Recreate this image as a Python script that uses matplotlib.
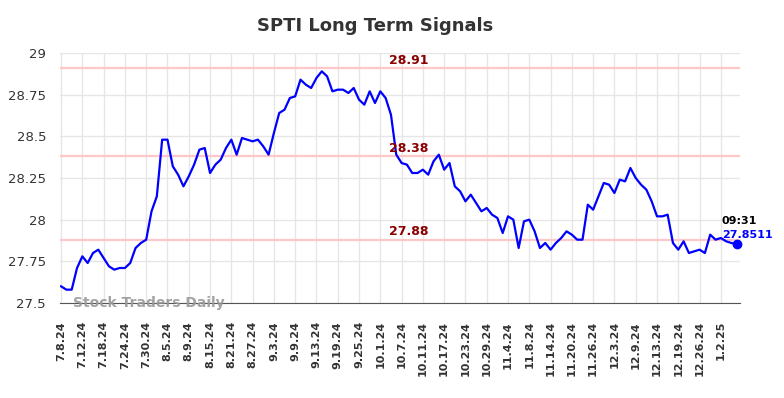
import matplotlib
matplotlib.use('Agg')
import matplotlib.pyplot as plt
from matplotlib.transforms import blended_transform_factory

# closing prices, one per trading day from 7.8.24 on
prices = [
    27.60, 27.58, 27.58, 27.71, 27.78, 27.74, 27.80, 27.82, 27.77, 27.72,
    27.70, 27.71, 27.71, 27.74, 27.83, 27.86, 27.88, 28.05, 28.14, 28.48,
    28.48, 28.32, 28.27, 28.20, 28.26, 28.33, 28.42, 28.43, 28.28, 28.33,
    28.36, 28.43, 28.48, 28.39, 28.49, 28.48, 28.47, 28.48, 28.44, 28.39,
    28.52, 28.64, 28.66, 28.73, 28.74, 28.84, 28.81, 28.79, 28.85, 28.89,
    28.86, 28.77, 28.78, 28.78, 28.76, 28.79, 28.72, 28.69, 28.77, 28.70,
    28.77, 28.73, 28.63, 28.39, 28.34, 28.33, 28.28, 28.28, 28.30, 28.27,
    28.35, 28.39, 28.30, 28.34, 28.20, 28.17, 28.11, 28.15, 28.10, 28.05,
    28.07, 28.03, 28.01, 27.92, 28.02, 28.00, 27.83, 27.99, 28.00, 27.93,
    27.83, 27.86, 27.82, 27.86, 27.89, 27.93, 27.91, 27.88, 27.88, 28.09,
    28.06, 28.14, 28.22, 28.21, 28.16, 28.24, 28.23, 28.31, 28.25, 28.21,
    28.18, 28.11, 28.02, 28.02, 28.03, 27.86, 27.82, 27.87, 27.80, 27.81,
    27.82, 27.80, 27.91, 27.88, 27.89, 27.87, 27.86, 27.8511,
]

# one label every 4 trading days
tick_labels = [
    '7.8.24', '7.12.24', '7.18.24', '7.24.24', '7.30.24', '8.5.24', '8.9.24',
    '8.15.24', '8.21.24', '8.27.24', '9.3.24', '9.9.24', '9.13.24', '9.19.24',
    '9.25.24', '10.1.24', '10.7.24', '10.11.24', '10.17.24', '10.23.24',
    '10.29.24', '11.4.24', '11.8.24', '11.14.24', '11.20.24', '11.26.24',
    '12.3.24', '12.9.24', '12.13.24', '12.19.24', '12.26.24', '1.2.25',
]
tick_step = 4

levels = [28.91, 28.38, 27.88]
last_time = '09:31'


def main():
    fig = plt.figure(figsize=(7.84, 3.98), dpi=100)
    ax = fig.add_axes([60 / 784, 95 / 398, 680 / 784, 250 / 398])

    x = list(range(len(prices)))
    for lvl in levels:
        ax.axhline(lvl, color='#ffc8c8', lw=1.6, zorder=1)
    ax.plot(x, prices, color='#0000ff', lw=1.6, zorder=3)
    ax.plot(x[-1], prices[-1], 'o', color='#0000ff', ms=6, zorder=4, clip_on=False)

    ax.set_xlim(-0.2, 127.6)
    ax.set_ylim(27.5, 29)
    ax.set_yticks([27.5, 27.75, 28, 28.25, 28.5, 28.75, 29])
    ax.set_yticklabels(['27.5', '27.75', '28', '28.25', '28.5', '28.75', '29'])
    ax.set_xticks(range(0, tick_step * len(tick_labels), tick_step))
    ax.set_xticklabels(tick_labels, rotation=90, fontsize=8, fontweight='bold', color='#333333')
    ax.tick_params(axis='x', length=0, pad=13)
    ax.tick_params(axis='y', length=0, pad=10, labelsize=9.5, labelcolor='#333333')
    ax.grid(True, color='#e6e6e6', lw=1, zorder=0)
    ax.set_axisbelow(True)
    for side in ['top', 'right', 'left']:
        ax.spines[side].set_visible(False)
    ax.spines['bottom'].set_color('#555555')

    trans = blended_transform_factory(ax.transAxes, ax.transData)
    for lvl in levels:
        ax.text(0.513, lvl + 0.048, f'{lvl:.2f}', transform=trans, ha='center', va='center',
                fontsize=9, fontweight='bold', color='#8b0000')

    ax.annotate(last_time, (x[-1], prices[-1]), xytext=(-10.8, 16.6), textcoords='offset points',
                ha='left', va='center', fontsize=8, fontweight='bold', color='black')
    ax.annotate(f'{prices[-1]:.4f}', (x[-1], prices[-1]), xytext=(-10.8, 6.5), textcoords='offset points',
                ha='left', va='center', fontsize=8, fontweight='bold', color='#0000ff')

    ax.text(13 / 680, 0.0, 'Stock Traders Daily', transform=ax.transAxes,
            ha='left', va='center', fontsize=10, fontweight='bold', color='#999999', alpha=0.9)

    fig.text(375 / 784, 1 - 26 / 398, 'SPTI Long Term Signals', ha='center', va='center',
             fontsize=13, fontweight='bold', color='#333333')

    fig.savefig('out.png', dpi=100)


if __name__ == '__main__':
    main()
